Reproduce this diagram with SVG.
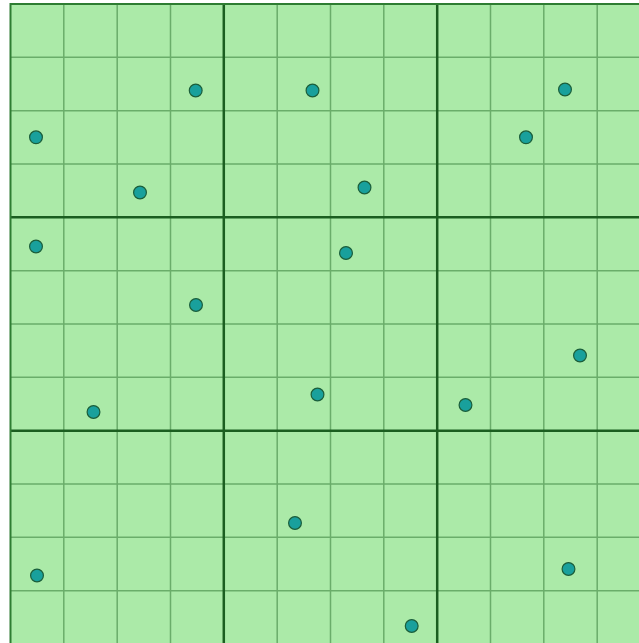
<svg xmlns="http://www.w3.org/2000/svg" width="639" height="643" viewBox="0 0 639 643">
<style>
.bg{fill:#ffffff}
.field{fill:#abeaa8}
.thin{stroke:#6aad6a;stroke-width:1.5;fill:none}
.thick{stroke:#1b5e20;stroke-width:2.5;fill:none}
.border{stroke:#2e7d32;stroke-width:2;fill:none}
.dot{fill:#19a09c;stroke:#1b5e3a;stroke-width:1.2}
</style>
<rect class="bg" x="0" y="0" width="639" height="643"/>
<rect class="field" x="10.5" y="4" width="640" height="640"/>
<g id="grid">
<path class="thin" d="M63.8 4V643M117.2 4V643M170.5 4V643M277.2 4V643M330.5 4V643M383.8 4V643M490.5 4V643M543.8 4V643M597.2 4V643"/>
<path class="thin" d="M10.5 57.3H639M10.5 110.7H639M10.5 164H639M10.5 270.7H639M10.5 324H639M10.5 377.3H639M10.5 484H639M10.5 537.3H639M10.5 590.7H639"/>
<path class="thick" d="M223.8 4V643M437.2 4V643M10.5 217.3H639M10.5 430.7H639"/>
<path class="border" d="M10.5 643V4H639"/>
</g>
<g id="points">
<circle id="p1" class="dot" cx="195.7" cy="90.5" r="6.4"/>
<circle id="p2" class="dot" cx="312.5" cy="90.5" r="6.4"/>
<circle id="p3" class="dot" cx="565" cy="89.5" r="6.4"/>
<circle id="p4" class="dot" cx="36" cy="137.3" r="6.4"/>
<circle id="p5" class="dot" cx="526" cy="137.3" r="6.4"/>
<circle id="p6" class="dot" cx="140" cy="192.5" r="6.4"/>
<circle id="p7" class="dot" cx="364.5" cy="187.5" r="6.4"/>
<circle id="p8" class="dot" cx="36" cy="246.5" r="6.4"/>
<circle id="p9" class="dot" cx="346" cy="253" r="6.4"/>
<circle id="p10" class="dot" cx="196" cy="305" r="6.4"/>
<circle id="p11" class="dot" cx="580" cy="355.5" r="6.4"/>
<circle id="p12" class="dot" cx="93.5" cy="412" r="6.4"/>
<circle id="p13" class="dot" cx="317.5" cy="394.5" r="6.4"/>
<circle id="p14" class="dot" cx="465.5" cy="405" r="6.4"/>
<circle id="p15" class="dot" cx="295" cy="523" r="6.4"/>
<circle id="p16" class="dot" cx="37" cy="575.5" r="6.4"/>
<circle id="p17" class="dot" cx="568.5" cy="569" r="6.4"/>
<circle id="p18" class="dot" cx="411.7" cy="626" r="6.4"/>
</g>
</svg>
